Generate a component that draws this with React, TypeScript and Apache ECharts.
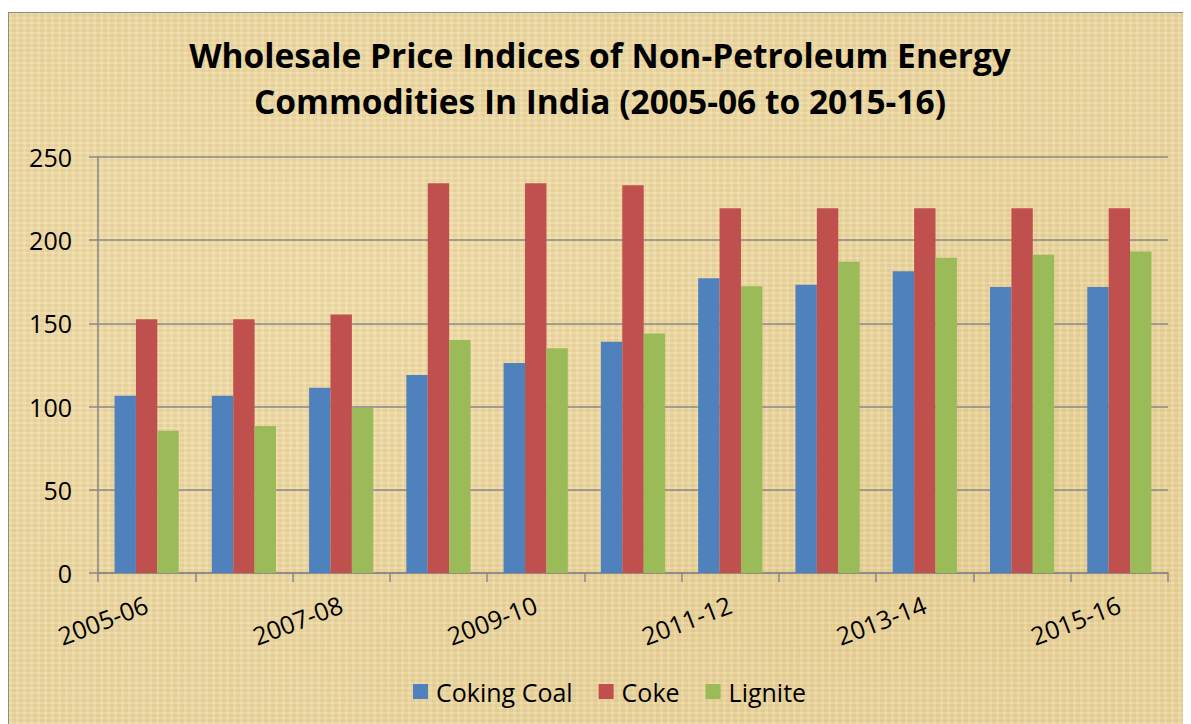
import React, { useEffect, useRef } from "react";
import * as echarts from "echarts";

const categories = [
  "2005-06", "2006-07", "2007-08", "2008-09", "2009-10", "2010-11",
  "2011-12", "2012-13", "2013-14", "2014-15", "2015-16",
];
const cokingCoal = [106.5, 106.5, 111.3, 119, 126.2, 139, 177.2, 173.2, 181.3, 171.9, 171.9];
const coke = [152.5, 152.5, 155.4, 234.2, 234.2, 233, 219.2, 219.2, 219.2, 219.2, 219.2];
const lignite = [85.5, 88.4, 99.2, 140, 135, 144, 172.4, 187, 189.4, 191.2, 193.2];
const seriesNames = ["Coking Coal", "Coke", "Lignite"];
const colors = ["#4F81BD", "#C0504D", "#9BBB59"];
const titleText = "Wholesale Price Indices of Non-Petroleum Energy\nCommodities In India (2005-06 to 2015-16)";

const FONT = "'Open Sans', 'Noto Sans', sans-serif";

export default function App() {
  const ref = useRef<HTMLDivElement>(null);
  useEffect(() => {
    if (!ref.current) return;
    const chart = echarts.init(ref.current, null, { renderer: "svg" });
    const axisGray = "#888888";
    chart.setOption({
      animation: false,
      textStyle: { fontFamily: FONT },
      title: {
        text: titleText,
        left: "center",
        top: 14,
        padding: [5, 5, 5, 17],
        textStyle: {
          fontFamily: FONT,
          fontSize: 33.5,
          fontWeight: "bold",
          color: "#000",
          lineHeight: 46,
        },
      },
      legend: {
        data: seriesNames,
        top: 661,
        left: 399,
        itemWidth: 15,
        itemHeight: 15,
        itemGap: 26,
        icon: "rect",
        textStyle: { fontFamily: FONT, fontSize: 25, color: "#000", padding: [0, 0, 0, 3] },
      },
      grid: { left: 89, right: 23, top: 144, bottom: 151, containLabel: false },
      xAxis: {
        type: "category",
        data: categories,
        axisLine: { show: true, lineStyle: { color: axisGray, width: 1.5 } },
        axisTick: { show: true, interval: 0, length: 9, lineStyle: { color: axisGray, width: 1.5 } },
        axisLabel: {
          interval: 1,
          rotate: 21,
          margin: 30,
          fontFamily: FONT,
          fontSize: 25,
          color: "#000",
        },
        splitLine: { show: false },
      },
      yAxis: {
        type: "value",
        min: 0,
        max: 250,
        interval: 50,
        axisLine: { show: true, lineStyle: { color: axisGray, width: 1.5 } },
        axisTick: { show: true, length: 9, lineStyle: { color: axisGray, width: 1.5 } },
        axisLabel: { margin: 26, fontFamily: FONT, fontSize: 25, color: "#000" },
        splitLine: { show: true, lineStyle: { color: axisGray, width: 1.5 } },
      },
      series: [
        { name: seriesNames[0], type: "bar", data: cokingCoal, itemStyle: { color: colors[0] }, barGap: "0%", barCategoryGap: "34%" },
        { name: seriesNames[1], type: "bar", data: coke, itemStyle: { color: colors[1] }, barGap: "0%", barCategoryGap: "34%" },
        { name: seriesNames[2], type: "bar", data: lignite, itemStyle: { color: colors[2] }, barGap: "0%", barCategoryGap: "34%" },
      ],
    });
    return () => chart.dispose();
  }, []);

  const bg: React.CSSProperties = {
    width: 1182,
    height: 711,
    marginTop: 4,
    borderTop: "1px solid #8c8c8c",
    borderLeft: "1px solid #8c8c8c",
    backgroundColor: "#ecd8a3",
    backgroundImage: [
      "repeating-linear-gradient(0deg, rgba(255,248,220,0.10) 0px, rgba(255,248,220,0.10) 2px, rgba(150,110,40,0.05) 2px, rgba(150,110,40,0.05) 5px)",
      "repeating-linear-gradient(90deg, rgba(255,248,220,0.10) 0px, rgba(255,248,220,0.10) 3px, rgba(150,110,40,0.05) 3px, rgba(150,110,40,0.05) 7px)",
      "radial-gradient(ellipse at 30% 40%, rgba(245,228,180,0.5), rgba(235,212,155,0) 60%)",
      "radial-gradient(ellipse at 75% 70%, rgba(225,195,130,0.35), rgba(235,212,155,0) 55%)",
    ].join(", "),
  };

  return (
    <div style={{ overflow: "hidden" }}>
      <div ref={ref} style={bg} />
    </div>
  );
}
